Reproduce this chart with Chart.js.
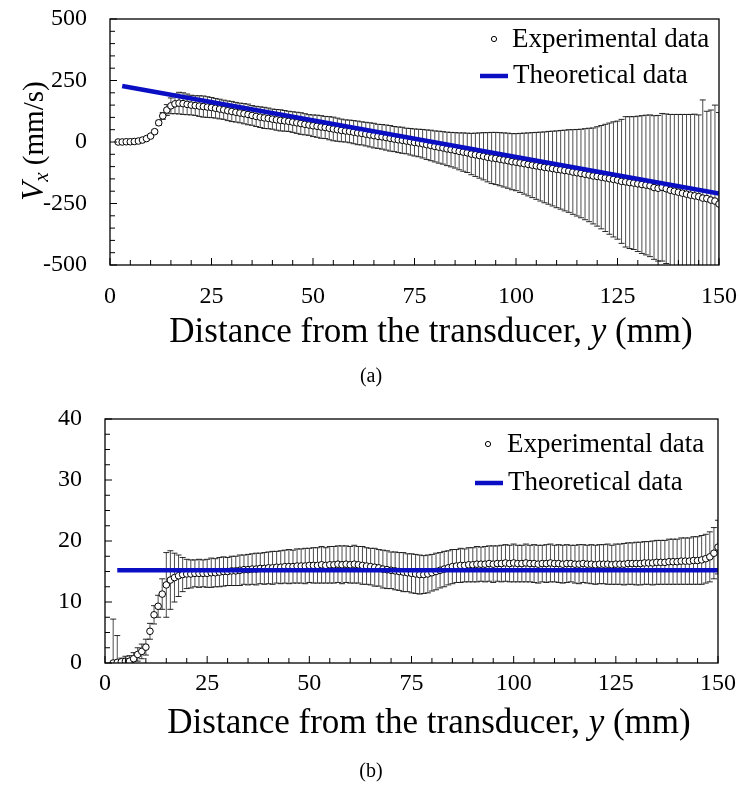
<!DOCTYPE html>
<html>
<head>
<meta charset="utf-8">
<script src="https://cdn.jsdelivr.net/npm/chart.js@4.4.1/dist/chart.umd.min.js"></script>
<style>
  body { margin: 0; background: #fff; }
  .panel { position: absolute; left: 0; width: 743px; }
  #panelA { top: 0; height: 392px; }
  #panelB { top: 392px; height: 396px; }
</style>
</head>
<body>
<div class="panel" id="panelA"><canvas id="vxChart" width="743" height="392"></canvas></div>
<div class="panel" id="panelB"><canvas id="vyChart" width="743" height="396"></canvas></div>
<script>
// distance from the transducer (mm), same positions for both panels
const distance = [
  2, 3, 4, 5, 6, 7, 8, 9, 10, 11,
  12, 13, 14, 15, 16, 17, 18, 19, 20, 21,
  22, 23, 24, 25, 26, 27, 28, 29, 30, 31,
  32, 33, 34, 35, 36, 37, 38, 39, 40, 41,
  42, 43, 44, 45, 46, 47, 48, 49, 50, 51,
  52, 53, 54, 55, 56, 57, 58, 59, 60, 61,
  62, 63, 64, 65, 66, 67, 68, 69, 70, 71,
  72, 73, 74, 75, 76, 77, 78, 79, 80, 81,
  82, 83, 84, 85, 86, 87, 88, 89, 90, 91,
  92, 93, 94, 95, 96, 97, 98, 99, 100, 101,
  102, 103, 104, 105, 106, 107, 108, 109, 110, 111,
  112, 113, 114, 115, 116, 117, 118, 119, 120, 121,
  122, 123, 124, 125, 126, 127, 128, 129, 130, 131,
  132, 133, 134, 135, 136, 137, 138, 139, 140, 141,
  142, 143, 144, 145, 146, 147, 148, 149, 150
];

// (a) Vx experimental mean and error (mm/s)
const vxExp = [
  0, 0, 1, 1, 2, 4, 8, 14, 24, 42,
  78, 106, 130, 147, 155, 158, 156, 153, 150, 148,
  146, 144, 142, 140, 137, 134, 131, 127, 124, 121,
  118, 115, 112, 108, 104, 101, 98, 96, 93, 90,
  88, 86, 84, 81, 78, 75, 72, 69, 66, 64,
  61, 59, 56, 53, 50, 47, 45, 43, 40, 37,
  35, 32, 29, 26, 23, 21, 18, 15, 12, 9,
  7, 4, 1, -2, -4, -7, -11, -14, -18, -21,
  -24, -28, -31, -34, -38, -41, -44, -49, -52, -55,
  -58, -62, -65, -67, -70, -73, -76, -80, -82, -85,
  -88, -91, -94, -97, -100, -103, -105, -108, -111, -113,
  -116, -118, -122, -125, -128, -131, -134, -138, -140, -143,
  -146, -149, -152, -155, -160, -162, -165, -167, -170, -173,
  -175, -178, -185, -188, -184, -190, -196, -200, -204, -208,
  -212, -216, -219, -222, -228, -230, -236, -240, -252
];
const vxErr = [
  2, 2, 2, 3, 3, 3, 4, 5, 6, 8,
  10, 14, 22, 32, 40, 44, 44, 42, 40, 40,
  42, 43, 42, 41, 40, 40, 39, 40, 41, 40,
  40, 41, 42, 40, 41, 42, 43, 42, 41, 42,
  43, 42, 41, 42, 43, 44, 43, 42, 44, 45,
  46, 45, 47, 48, 47, 46, 45, 46, 47, 48,
  47, 48, 49, 50, 49, 50, 51, 52, 51, 52,
  53, 52, 54, 55, 56, 58, 60, 62, 63, 65,
  66, 68, 70, 72, 75, 78, 80, 84, 88, 92,
  96, 100, 104, 106, 108, 110, 112, 114, 116, 120,
  124, 128, 132, 136, 140, 144, 148, 152, 156, 160,
  164, 168, 172, 176, 180, 185, 190, 195, 202, 210,
  218, 226, 234, 240, 252, 265, 268, 270, 275, 280,
  284, 288, 292, 296, 300, 304, 308, 312, 316, 320,
  324, 328, 332, 332, 399, 355, 366, 390, 372
];

// (b) Vy experimental mean and error (mm/s)
const vyExp = [
  0.0, 0.1, 0.2, 0.3, 0.3, 0.7, 1.4, 1.9, 2.6, 5.2,
  7.9, 9.3, 11.3, 12.8, 13.6, 14.0, 14.3, 14.5, 14.6, 14.6,
  14.7, 14.7, 14.7, 14.7, 14.8, 14.8, 14.9, 15.0, 15.0, 15.1,
  15.1, 15.2, 15.3, 15.3, 15.4, 15.4, 15.5, 15.5, 15.6, 15.6,
  15.7, 15.7, 15.8, 15.8, 15.8, 15.9, 15.9, 15.9, 16.0, 16.0,
  16.0, 16.1, 16.0, 16.1, 16.1, 16.2, 16.1, 16.2, 16.1, 16.2,
  16.1, 16.0, 15.9, 15.8, 15.7, 15.6, 15.4, 15.3, 15.2, 15.1,
  15.0, 14.9, 14.8, 14.7, 14.6, 14.5, 14.5, 14.6, 14.8, 15.0,
  15.2, 15.4, 15.6, 15.8, 15.9, 16.0, 16.0, 16.1, 16.1, 16.2,
  16.2, 16.2, 16.3, 16.2, 16.3, 16.3, 16.4, 16.3, 16.4, 16.3,
  16.3, 16.4, 16.3, 16.3, 16.2, 16.3, 16.3, 16.4, 16.3, 16.3,
  16.2, 16.3, 16.3, 16.2, 16.2, 16.3, 16.2, 16.2, 16.1, 16.2,
  16.2, 16.2, 16.1, 16.2, 16.2, 16.2, 16.3, 16.3, 16.3, 16.3,
  16.4, 16.4, 16.4, 16.5, 16.5, 16.5, 16.6, 16.6, 16.6, 16.7,
  16.7, 16.7, 16.8, 16.8, 16.9, 17.1, 17.4, 18.0, 19.0
];
const vyErr = [
  7.2, 4.4, 0.6, 0.8, 0.9, 1.0, 1.1, 1.2, 1.3, 1.3,
  1.5, 1.8, 2.5, 5.3, 4.8, 4.0, 3.4, 2.8, 2.4, 2.3,
  2.2, 2.3, 2.2, 2.3, 2.4, 2.3, 2.4, 2.4, 2.3, 2.4,
  2.4, 2.5, 2.4, 2.5, 2.5, 2.6, 2.5, 2.6, 2.6, 2.7,
  2.6, 2.7, 2.7, 2.8, 2.7, 2.8, 2.8, 2.9, 2.8, 2.9,
  2.9, 3.0, 2.9, 3.0, 3.0, 3.0, 3.1, 3.0, 3.0, 3.1,
  3.0, 3.1, 3.0, 3.0, 3.1, 3.0, 3.1, 3.1, 3.0, 3.1,
  3.1, 3.2, 3.1, 3.2, 3.2, 3.2, 3.1, 3.1, 3.0, 3.0,
  2.9, 2.9, 2.8, 2.8, 2.7, 2.8, 2.7, 2.8, 2.8, 2.9,
  2.8, 2.9, 2.9, 3.0, 2.9, 3.0, 3.0, 3.0, 3.1, 3.0,
  3.0, 3.1, 3.0, 3.1, 3.1, 3.0, 3.1, 3.1, 3.0, 3.1,
  3.1, 3.1, 3.0, 3.1, 3.2, 3.1, 3.1, 3.2, 3.2, 3.2,
  3.2, 3.3, 3.2, 3.3, 3.3, 3.4, 3.4, 3.4, 3.5, 3.5,
  3.5, 3.5, 3.6, 3.6, 3.6, 3.6, 3.7, 3.7, 3.7, 3.8,
  3.8, 3.8, 3.9, 3.9, 4.0, 4.0, 4.1, 4.2, 4.4
];

// theoretical lines (end points)
const theoX = [3, 150];
const theoVx = [228, -209];
const theoVy = [15.2, 15.2];

const serif = "'Liberation Serif', 'Times New Roman', serif";
const blue = '#0a0fc4';

function toPoints(xs, ys) {
  return xs.map((x, i) => ({ x: x, y: ys[i] }));
}

// draws a row of text pieces (different fonts) centred on cx
function drawParts(ctx, parts, cx, baseY) {
  let total = 0;
  parts.forEach(p => { ctx.font = p.font; p.w = ctx.measureText(p.text).width; total += p.w; });
  let x = cx - total / 2;
  parts.forEach(p => {
    ctx.font = p.font;
    ctx.fillText(p.text, x, baseY + (p.dy || 0));
    x += p.w;
  });
}

function figurePlugin(cfg) {
  return {
    id: 'figure',
    beforeDatasetsDraw(chart) {
      const { ctx, chartArea: a, scales: { x, y } } = chart;
      ctx.save();
      ctx.beginPath();
      ctx.rect(a.left, a.top, a.right - a.left, a.bottom - a.top);
      ctx.clip();
      ctx.lineWidth = 0.9;
      cfg.values.forEach((v, i) => {
        const px = x.getPixelForValue(distance[i]);
        const top = y.getPixelForValue(v + cfg.errors[i]);
        const bot = y.getPixelForValue(v - cfg.errors[i]);
        ctx.strokeStyle = '#3a3a3a';
        ctx.beginPath();
        ctx.moveTo(px, top);
        ctx.lineTo(px, bot);
        ctx.stroke();
        ctx.strokeStyle = '#111';
        ctx.beginPath();
        ctx.moveTo(px - 3, top); ctx.lineTo(px + 3, top);
        ctx.moveTo(px - 3, bot); ctx.lineTo(px + 3, bot);
        ctx.stroke();
      });
      ctx.restore();
    },
    afterDraw(chart) {
      const { ctx, chartArea: a, scales: { x, y } } = chart;
      ctx.save();
      // frame
      ctx.strokeStyle = '#000';
      ctx.lineWidth = 1.3;
      ctx.strokeRect(a.left, a.top, a.right - a.left, a.bottom - a.top);
      // inward tick marks
      ctx.lineWidth = 1;
      ctx.beginPath();
      for (let t = x.min; t <= x.max + 1e-9; t += 5) {
        const px = x.getPixelForValue(t);
        const len = (t % 25 === 0) ? 7 : 5;
        ctx.moveTo(px, a.bottom); ctx.lineTo(px, a.bottom - len);
      }
      for (let t = y.min; t <= y.max + 1e-9; t += cfg.yMinor) {
        const py = y.getPixelForValue(t);
        const len = (Math.abs(t % cfg.yMajor) < 1e-9) ? 7 : 5;
        ctx.moveTo(a.left, py); ctx.lineTo(a.left + len, py);
      }
      ctx.stroke();

      ctx.fillStyle = '#000';
      ctx.textBaseline = 'alphabetic';
      // x axis title
      drawParts(ctx, [
        { text: 'Distance from the transducer, ', font: '35px ' + serif },
        { text: 'y', font: 'italic 35px ' + serif },
        { text: ' (mm)', font: '35px ' + serif }
      ], cfg.xTitleX, cfg.xTitleY);
      // caption
      drawParts(ctx, [{ text: cfg.caption, font: '20px ' + serif }], 371, cfg.captionY);
      // y axis title, rotated
      ctx.save();
      ctx.translate(cfg.yTitleX, cfg.yTitleY);
      ctx.rotate(-Math.PI / 2);
      drawParts(ctx, [
        { text: 'V', font: 'italic 31px ' + serif },
        { text: cfg.sub, font: 'italic 21px ' + serif, dy: 5 },
        { text: ' (mm/s)', font: '29px ' + serif }
      ], 0, 0);
      ctx.restore();

      // legend
      const ds = chart.data.datasets;
      const L = cfg.legend;
      ctx.font = '27px ' + serif;
      ctx.textBaseline = 'middle';
      ctx.fillText(ds[1].label, L.textX, L.row1);
      ctx.fillText(ds[0].label, L.textX2, L.row2);
      ctx.beginPath();
      ctx.arc(L.markX, L.row1 - 1, 2.6, 0, Math.PI * 2);
      ctx.fillStyle = '#fff';
      ctx.fill();
      ctx.strokeStyle = '#000';
      ctx.lineWidth = 1;
      ctx.stroke();
      ctx.strokeStyle = blue;
      ctx.lineWidth = 4.5;
      ctx.beginPath();
      ctx.moveTo(L.lineX0, L.row2);
      ctx.lineTo(L.lineX1, L.row2);
      ctx.stroke();
      ctx.restore();
    }
  };
}

function makeChart(id, cfg) {
  return new Chart(document.getElementById(id), {
    type: 'line',
    data: {
      datasets: [
        {
          label: 'Theoretical data',
          data: toPoints(theoX, cfg.theo),
          borderColor: blue,
          borderWidth: 4.5,
          pointRadius: 0,
          fill: false,
          order: 0
        },
        {
          label: 'Experimental data',
          data: toPoints(distance, cfg.values),
          showLine: false,
          pointRadius: 3.3,
          pointBorderWidth: 1,
          pointBorderColor: '#000',
          pointBackgroundColor: '#fff',
          order: 1
        }
      ]
    },
    options: {
      responsive: false,
      animation: false,
      devicePixelRatio: 1,
      layout: { padding: { top: cfg.padTop, right: cfg.padRight, left: 0, bottom: 0 } },
      plugins: { legend: { display: false }, tooltip: { enabled: false } },
      scales: {
        x: {
          type: 'linear',
          min: 0,
          max: 150,
          grid: { display: false, drawTicks: false },
          border: { display: false },
          ticks: { stepSize: 25, padding: cfg.xPad, color: '#000', font: { family: serif, size: 24 } },
          afterFit: s => { s.height = cfg.xHeight; s.paddingLeft = 0; s.paddingRight = 0; }
        },
        y: {
          min: cfg.yMin,
          max: cfg.yMax,
          grid: { display: false, drawTicks: false },
          border: { display: false },
          ticks: { stepSize: cfg.yMajor, padding: 23, color: '#000', font: { family: serif, size: 24 } },
          afterFit: s => { s.width = cfg.yWidth; s.paddingTop = 0; s.paddingBottom = 0; }
        }
      }
    },
    plugins: [figurePlugin(cfg)]
  });
}

makeChart('vxChart', {
  values: vxExp, errors: vxErr, theo: theoVx,
  yMin: -500, yMax: 500, yMajor: 250, yMinor: 50,
  padTop: 19, padRight: 24, yWidth: 110, xHeight: 127, xPad: 17,
  xTitleX: 431, xTitleY: 342, caption: '(a)', captionY: 382,
  sub: 'x', yTitleX: 43, yTitleY: 141,
  legend: { markX: 494, textX: 512, textX2: 513, row1: 40, row2: 76, lineX0: 480, lineX1: 508 }
});

makeChart('vyChart', {
  values: vyExp, errors: vyErr, theo: theoVy,
  yMin: 0, yMax: 40, yMajor: 10, yMinor: 2.5,
  padTop: 27, padRight: 25, yWidth: 105, xHeight: 125, xPad: 6,
  xTitleX: 429, xTitleY: 341, caption: '(b)', captionY: 385,
  sub: 'y', yTitleX: 42, yTitleY: 546,
  legend: { markX: 488, textX: 507, textX2: 508, row1: 53, row2: 91, lineX0: 475, lineX1: 503 }
});
</script>
</body>
</html>
